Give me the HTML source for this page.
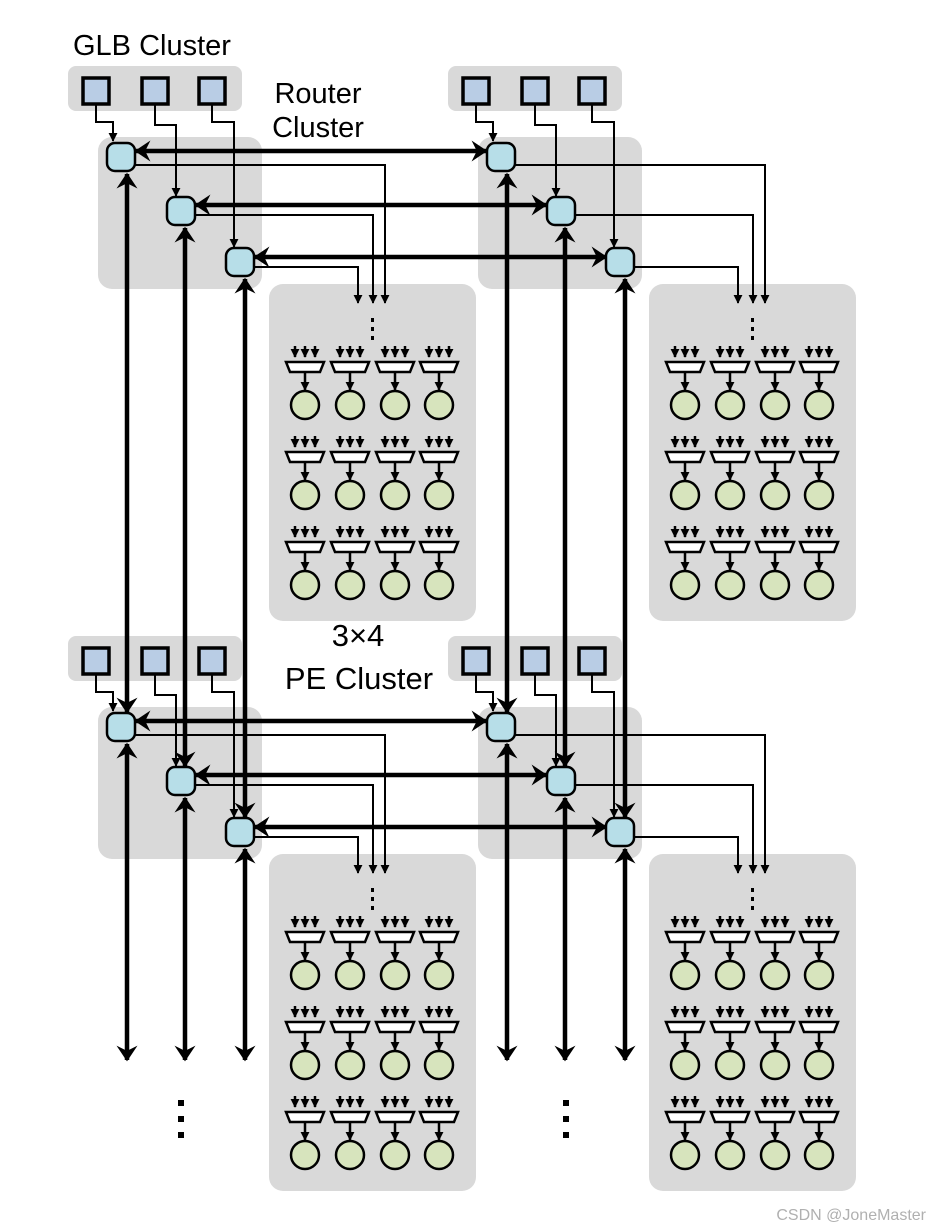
<!DOCTYPE html>
<html><head><meta charset="utf-8"><style>
html,body{margin:0;padding:0;background:#fff;width:930px;height:1230px;overflow:hidden}
text{font-family:"Liberation Sans",Arial,sans-serif}
</style></head><body>
<svg width="930" height="1230" viewBox="0 0 930 1230" xmlns="http://www.w3.org/2000/svg">
<defs>
<marker id="ta" viewBox="0 0 10 10" refX="9" refY="5" markerWidth="9" markerHeight="9" orient="auto-start-reverse" markerUnits="userSpaceOnUse">
<path d="M0,0 L10,5 L0,10 Z" fill="#000"/></marker>
<marker id="tb" viewBox="0 0 12 16" refX="11" refY="8" markerWidth="16" markerHeight="21" orient="auto-start-reverse" markerUnits="userSpaceOnUse">
<path d="M0,0 L12,8 L0,16 L4,8 Z" fill="#000"/></marker>
<g id="pe">
<g stroke="#000" stroke-width="2.5">
<path d="M-10,-16 V-5" marker-end="url(#ta)"/><path d="M0,-16 V-5" marker-end="url(#ta)"/><path d="M10,-16 V-5" marker-end="url(#ta)"/>
</g>
<path d="M-19,0 H19 L15,10 H-15 Z" fill="#fff" stroke="#000" stroke-width="2.5"/>
<path d="M0,10 V28" stroke="#000" stroke-width="2.5" marker-end="url(#ta)"/>
<circle cx="0" cy="43" r="14" fill="#d7e4bd" stroke="#000" stroke-width="2.5"/>
</g>
<g id="row">
<use href="#pe" x="305"/><use href="#pe" x="350"/><use href="#pe" x="395"/><use href="#pe" x="439"/>
</g>
<g id="quad">
<rect x="68" y="66" width="174" height="45" rx="8" fill="#d9d9d9"/>
<rect x="98" y="137" width="164" height="152" rx="14" fill="#d9d9d9"/>
<rect x="269" y="284" width="207" height="337" rx="14" fill="#d9d9d9"/>
<g fill="#b9cde5" stroke="#000" stroke-width="3.5">
<rect x="83" y="78" width="26" height="26"/><rect x="142" y="78" width="26" height="26"/><rect x="199" y="78" width="26" height="26"/>
</g>
<g fill="none" stroke="#000" stroke-width="2">
<path d="M96,104 V122 H113 V141" marker-end="url(#ta)"/>
<path d="M155,104 V125 H176 V196" marker-end="url(#ta)"/>
<path d="M212,104 V122 H234 V247" marker-end="url(#ta)"/>
<path d="M135,165 H385 V303" marker-end="url(#ta)"/>
<path d="M195,215 H373 V303" marker-end="url(#ta)"/>
<path d="M254,267 H358 V303" marker-end="url(#ta)"/>
</g>
<g fill="#000"><rect x="371" y="318" width="3" height="4"/><rect x="371" y="327" width="3" height="4"/><rect x="371" y="336" width="3" height="4"/></g>
<use href="#row" y="362"/><use href="#row" y="452"/><use href="#row" y="542"/>
</g>
<g id="hl">
<g stroke="#000" stroke-width="4.5" marker-start="url(#tb)" marker-end="url(#tb)">
<path d="M136,151 H486"/><path d="M196,205 H546"/><path d="M255,257 H606"/>
</g>
</g>
<g id="rt">
<g fill="#b7dee8" stroke="#000" stroke-width="2.5">
<rect x="107" y="143" width="28" height="28" rx="8"/>
<rect x="167" y="197" width="28" height="28" rx="8"/>
<rect x="226" y="248" width="28" height="28" rx="8"/>
</g>
</g>
</defs>
<use href="#quad"/>
<use href="#quad" x="380"/>
<use href="#quad" y="570"/>
<use href="#quad" x="380" y="570"/>
<use href="#hl"/>
<use href="#hl" y="570"/>
<g stroke="#000" stroke-width="4.5" marker-start="url(#tb)" marker-end="url(#tb)">
<path d="M127,174 V712"/><path d="M185,228 V766"/><path d="M245,279 V817"/>
<path d="M507,174 V712"/><path d="M565,228 V766"/><path d="M625,279 V817"/>
<path d="M127,744 V1060"/><path d="M185,798 V1060"/><path d="M245,849 V1060"/>
<path d="M507,744 V1060"/><path d="M565,798 V1060"/><path d="M625,849 V1060"/>
</g>
<use href="#rt"/><use href="#rt" x="380"/><use href="#rt" y="570"/><use href="#rt" x="380" y="570"/>
<g fill="#000"><rect x="178" y="1100" width="6" height="6"/><rect x="178" y="1116" width="6" height="6"/><rect x="178" y="1132" width="6" height="6"/>
<rect x="563" y="1100" width="6" height="6"/><rect x="563" y="1116" width="6" height="6"/><rect x="563" y="1132" width="6" height="6"/></g>
<text x="73" y="55" font-size="29">GLB Cluster</text>
<text x="318" y="103" font-size="29" text-anchor="middle">Router</text>
<text x="318" y="137" font-size="29" text-anchor="middle">Cluster</text>
<text x="358" y="646" font-size="31" text-anchor="middle">3×4</text>
<text x="359" y="689" font-size="31" text-anchor="middle">PE Cluster</text>
<text x="926" y="1220" font-size="16" fill="#b0b0b0" text-anchor="end">CSDN @JoneMaster</text>
</svg>
</body></html>
